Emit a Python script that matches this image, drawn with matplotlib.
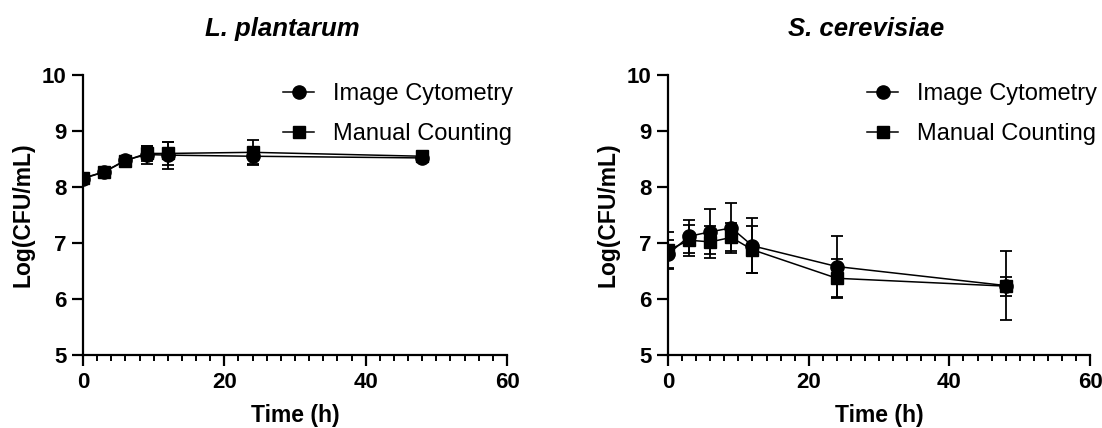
import matplotlib

matplotlib.use("Agg")
import matplotlib.pyplot as plt
from matplotlib.ticker import MultipleLocator

plt.rcParams["font.family"] = ["Liberation Sans", "DejaVu Sans"]

TIME = [0, 3, 6, 9, 12, 24, 48]

# L. plantarum
LP_IC = [8.15, 8.27, 8.48, 8.58, 8.57, 8.55, 8.52]
LP_IC_ERR = [0.04, 0.04, 0.05, 0.16, 0.24, 0.13, 0.04]
LP_MC = [8.16, 8.27, 8.47, 8.60, 8.60, 8.62, 8.55]
LP_MC_ERR = [0.04, 0.04, 0.05, 0.14, 0.20, 0.22, 0.04]

# S. cerevisiae
SC_IC = [6.80, 7.12, 7.20, 7.27, 6.95, 6.58, 6.24]
SC_IC_ERR = [0.25, 0.30, 0.40, 0.45, 0.49, 0.55, 0.61]
SC_MC = [6.87, 7.05, 7.02, 7.10, 6.88, 6.37, 6.23]
SC_MC_ERR = [0.33, 0.28, 0.28, 0.25, 0.42, 0.35, 0.17]

TITLES = ["L. plantarum", "S. cerevisiae"]
LABELS = ["Image Cytometry", "Manual Counting"]


def _panel(ax, title, ic, ic_err, mc, mc_err):
    common = dict(color="black", linewidth=1.1, elinewidth=1.3,
                  capsize=4.3, capthick=1.3)
    c1 = ax.errorbar(TIME, ic, yerr=ic_err, marker="o", markersize=9.5,
                     label=LABELS[0], **common)
    c2 = ax.errorbar(TIME, mc, yerr=mc_err, marker="s", markersize=9,
                     label=LABELS[1], **common)

    ax.set_xlim(0, 60)
    ax.set_ylim(5, 10)
    ax.xaxis.set_major_locator(MultipleLocator(20))
    ax.xaxis.set_minor_locator(MultipleLocator(2))
    ax.yaxis.set_major_locator(MultipleLocator(1))
    for side in ("top", "right"):
        ax.spines[side].set_visible(False)
    for side in ("left", "bottom"):
        ax.spines[side].set_linewidth(1.6)
    ax.tick_params(which="major", length=8, width=1.6, labelsize=16, pad=4)
    ax.tick_params(which="minor", length=4.5, width=1.4)
    for lbl in ax.get_xticklabels() + ax.get_yticklabels():
        lbl.set_fontweight("bold")

    ax.set_xlabel("Time (h)", fontsize=16.5, fontweight="bold", labelpad=8)
    ax.set_ylabel("Log(CFU/mL)", fontsize=16.5, fontweight="bold", labelpad=5)
    ax.set_title(title, fontsize=18.5, fontweight="bold", style="italic",
                 pad=28, x=0.47)
    # legend shows only line + marker, no error bars
    ax.legend(handles=[c1.lines[0], c2.lines[0]], labels=LABELS,
              loc="upper left", bbox_to_anchor=(0.45, 1.005), frameon=False,
              fontsize=17, handlelength=1.3, handletextpad=0.8,
              labelspacing=0.75, borderaxespad=0)


fig = plt.figure(figsize=(11.02, 4.28), dpi=100)
ax1 = fig.add_axes([0.0753, 0.1706, 0.3848, 0.654])
ax2 = fig.add_axes([0.6062, 0.1706, 0.3830, 0.654])

_panel(ax1, TITLES[0], LP_IC, LP_IC_ERR, LP_MC, LP_MC_ERR)
_panel(ax2, TITLES[1], SC_IC, SC_IC_ERR, SC_MC, SC_MC_ERR)

fig.savefig("out.png", dpi=100)
